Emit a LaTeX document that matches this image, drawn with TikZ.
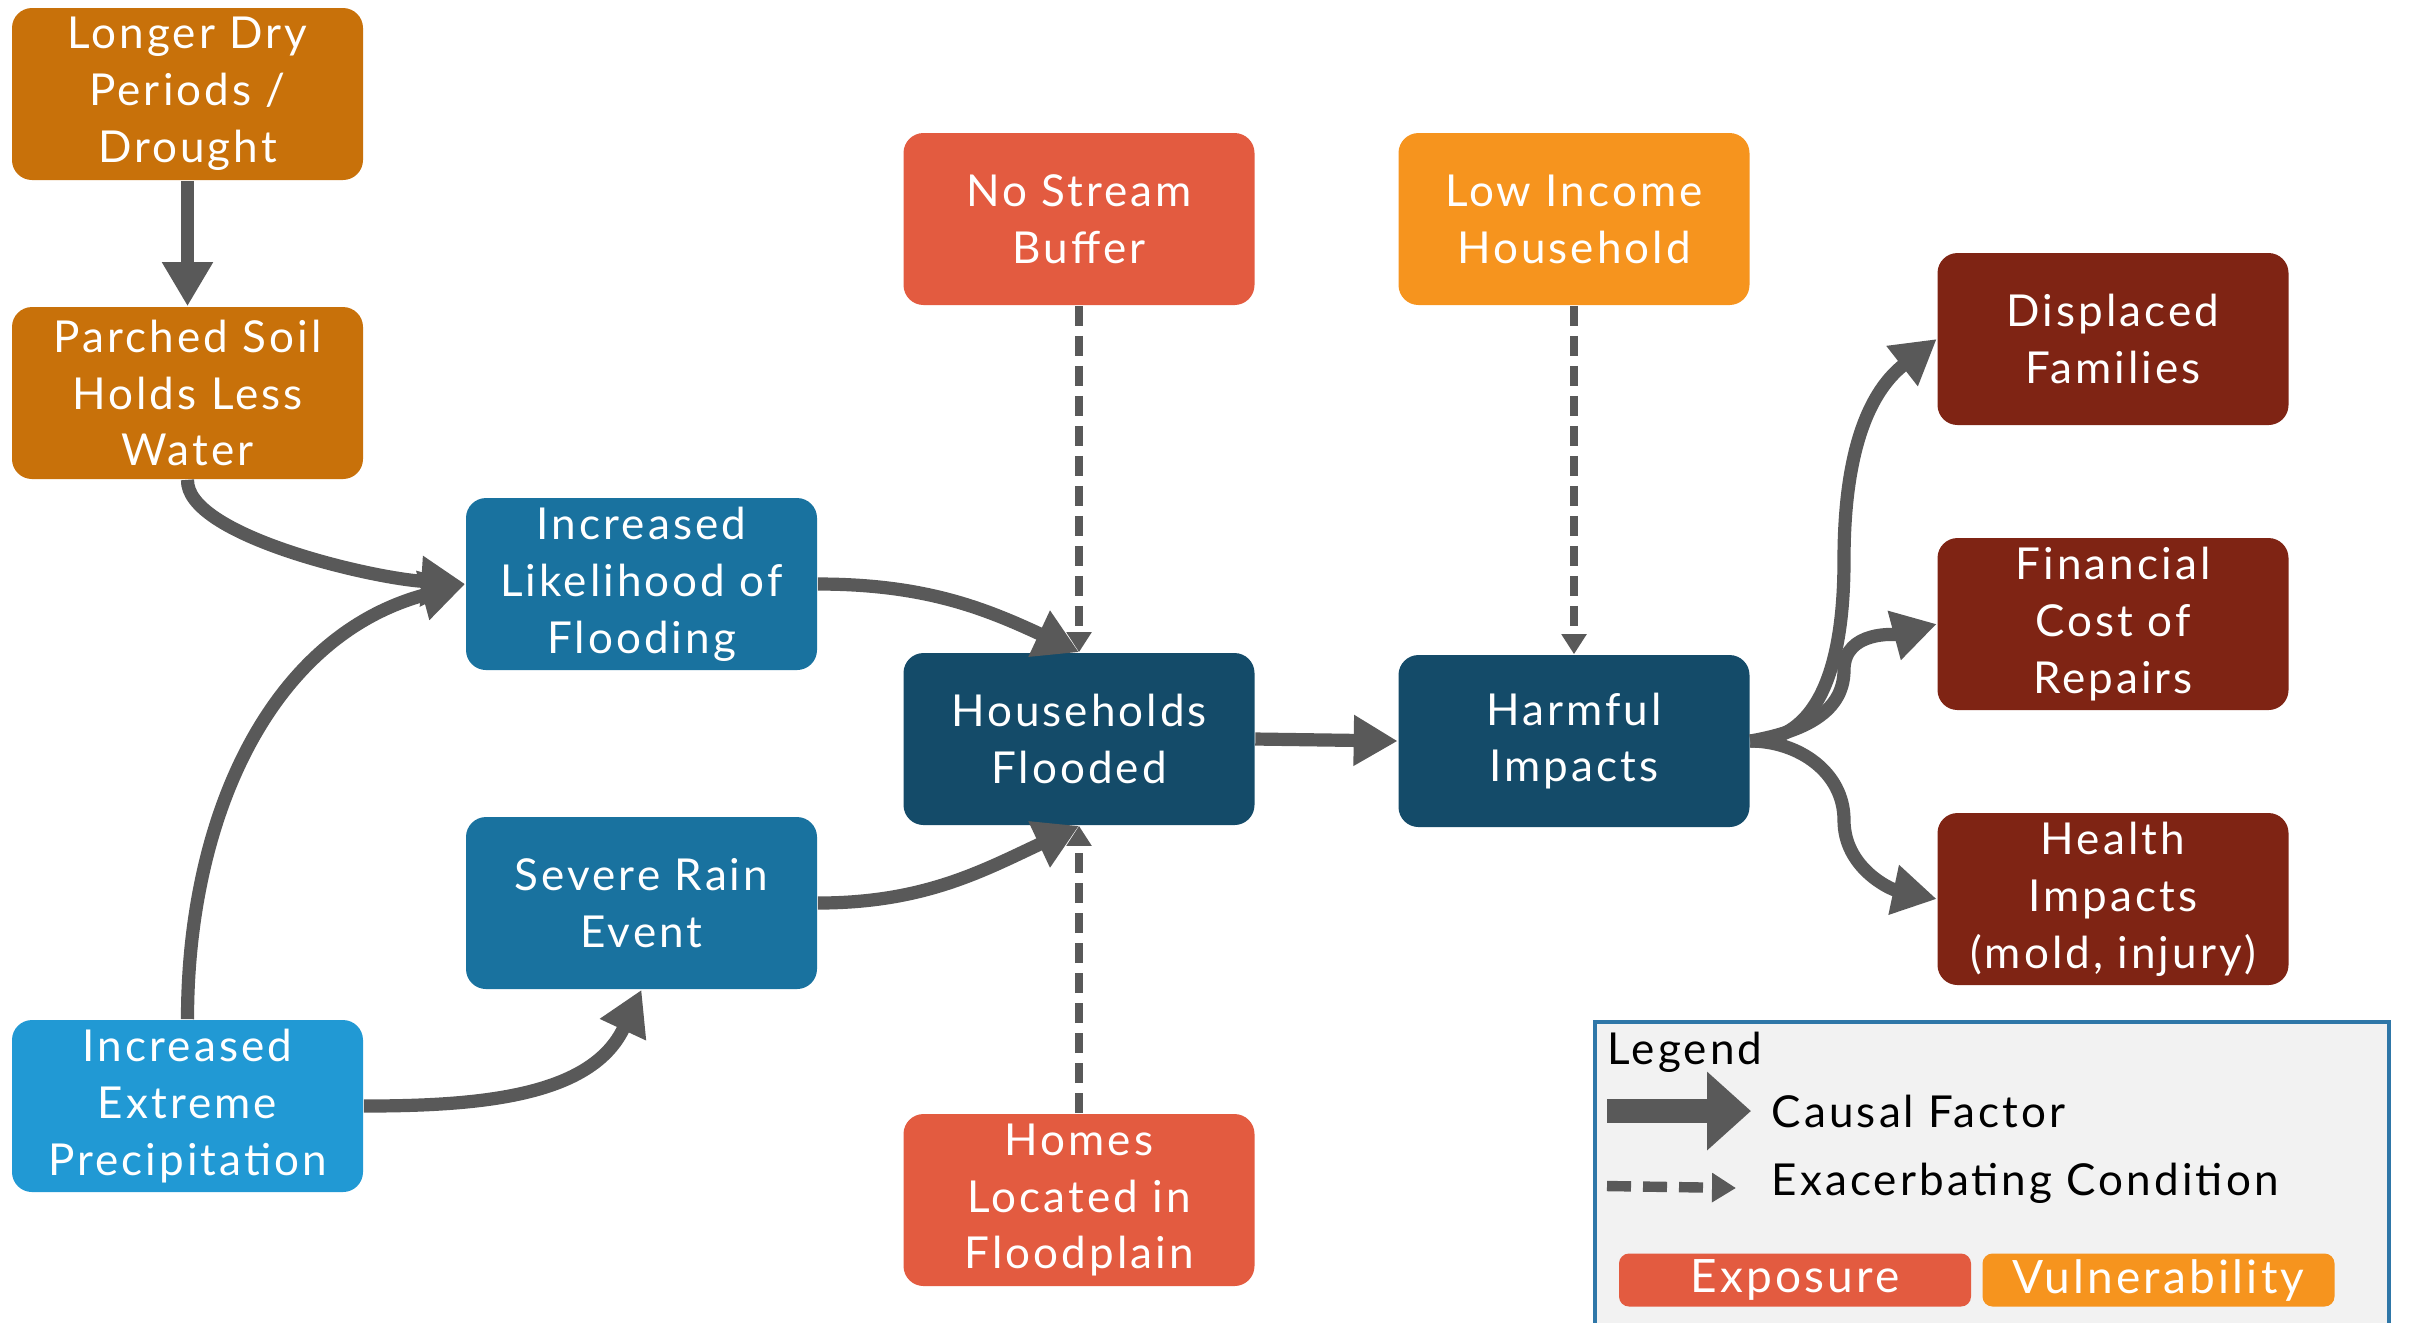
\documentclass[tikz,border=0pt]{standalone}
\usepackage{fontspec}
\setmainfont{Lato}[LetterSpace=7]
\usetikzlibrary{arrows.meta}
\definecolor{cDry}{HTML}{C8710A}
\definecolor{cBlue}{HTML}{19729F}
\definecolor{cLight}{HTML}{2199D4}
\definecolor{cRed}{HTML}{E35B40}
\definecolor{cOrange}{HTML}{F6941E}
\definecolor{cDark}{HTML}{144B69}
\definecolor{cMaroon}{HTML}{7F2414}
\definecolor{cGray}{HTML}{595959}
\definecolor{cLegBg}{HTML}{F2F2F2}
\definecolor{cLegBd}{HTML}{2F77A8}
\begin{document}
\begin{tikzpicture}[x=0.25pt,y=-0.25pt,
  box/.style={rounded corners=5pt, minimum width=87.75pt, minimum height=43pt, align=center, text=white, font=\fontsize{11}{14.2}\selectfont, inner sep=0pt},
  causal/.style={draw=cGray, line width=3.3pt, -{Triangle[length=11pt,width=12pt]}},
  exac/.style={draw=cGray, line width=1.8pt, dash pattern=on 5pt off 2.5pt, -{Triangle[length=5pt,width=6pt]}},
  legtxt/.style={anchor=west, inner sep=0pt, font=\fontsize{11}{14.2}\selectfont},
  legbox/.style={rounded corners=2.5pt, minimum width=88pt, minimum height=13.25pt, text=white, inner sep=0pt, font=\fontsize{11.5}{12}\selectfont}]
\useasboundingbox (0,0) rectangle (2409,1322);
% nodes
\node[box, fill=cDry] (dry) at (187.5,94) {Longer Dry\\Periods /\\Drought};
\node[box, fill=cDry] (soil) at (187.5,393) {Parched Soil\\Holds Less\\Water};
\node[box, fill=cBlue] (lik) at (641.5,584) {Increased\\Likelihood of\\Flooding};
\node[box, fill=cBlue] (rain) at (641.5,903) {Severe Rain\\Event};
\node[box, fill=cLight] (prec) at (187.5,1106) {Increased\\Extreme\\Precipitation};
\node[box, fill=cRed] (nsb) at (1079,219) {No Stream\\Buffer};
\node[box, fill=cDark] (hf) at (1079,739) {Households\\Flooded};
\node[box, fill=cRed] (homes) at (1079,1200) {Homes\\Located in\\Floodplain};
\node[box, fill=cOrange] (low) at (1574,219) {Low Income\\Household};
\node[box, fill=cDark] (harm) at (1574,741) {Harmful\\Impacts};
\node[box, fill=cMaroon] (disp) at (2113,339) {Displaced\\Families};
\node[box, fill=cMaroon] (fin) at (2113,624) {Financial\\Cost of\\Repairs};
\node[box, fill=cMaroon] (hea) at (2113,899) {Health\\Impacts\\(mold, injury)};
% connectors
\draw[causal] (dry.south) -- (soil.north);
\draw[causal] (soil.south) .. controls (186,535) and (370,578) .. (lik.west);
\draw[causal] (prec.north) to[out=90,in=195] (lik.west);
\draw[causal] (lik.east) to[out=0,in=155] (hf.north);
\draw[causal] (rain.east) to[out=0,in=205] (hf.south);
\draw[causal] (prec.east) to[out=0,in=245] (rain.south);
\draw[exac] (nsb.south) -- (hf.north);
\draw[exac] (homes.north) -- (hf.south);
\draw[exac] (low.south) -- (harm.north);
\draw[causal] (hf.east) -- (harm.west);
\coordinate (b1) at (1844,560);
\coordinate (b2) at (1844,670);
\coordinate (b3) at (1844,820);
\draw[causal] (harm.east) to[out=0,in=-90] (b1) to[out=90,in=218] (disp.west);
\draw[causal] (harm.east) to[out=10,in=-90] (b2) to[out=90,in=195] (fin.west);
\draw[causal] (harm.east) to[out=0,in=90] (b3) to[out=-90,in=168] (hea.west);
% legend
\draw[draw=cLegBd, fill=cLegBg, line width=1pt] (1595,1022) rectangle (2389,1345);
\node[legtxt] (lg) at (1607,1052) {Legend};
\coordinate (c1) at (1607,1111);
\coordinate (c2) at (1751,1111);
\draw[draw=cGray, line width=6pt, -{Triangle[length=11pt,width=19pt]}] (c1) -- (c2);
\node[legtxt] (cf) at (1771,1111) {Causal Factor};
\coordinate (d1) at (1607,1186);
\coordinate (d2) at (1736,1188);
\draw[draw=cGray, line width=2.6pt, dash pattern=on 6pt off 3pt, -{Triangle[length=6pt,width=7pt]}] (d1) -- (d2);
\node[legtxt] (ec) at (1771,1183) {Exacerbating Condition};
\node[legbox, fill=cRed] (ex) at (1795,1280) {Exposure};
\node[legbox, fill=cOrange] (vu) at (2158.5,1280) {Vulnerability};
\end{tikzpicture}
\end{document}
